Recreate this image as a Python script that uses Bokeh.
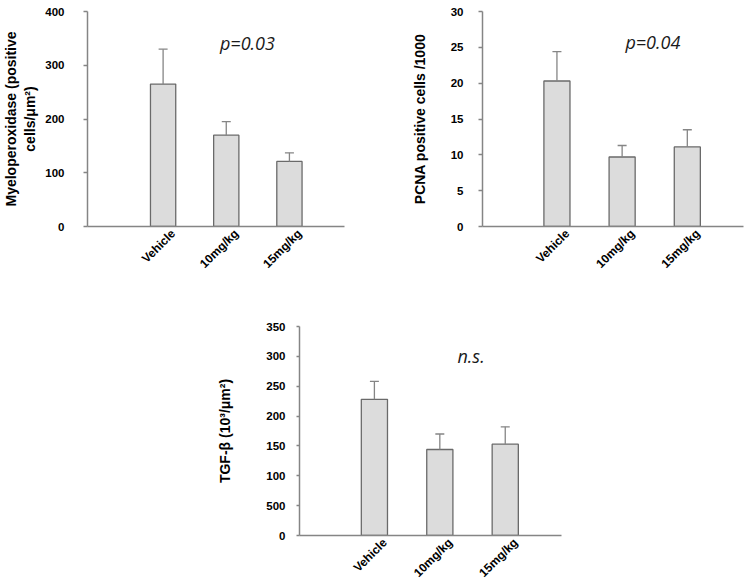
import math
from bokeh.plotting import figure
from bokeh.models import Range1d, FixedTicker, Whisker, TeeHead, Label, ColumnDataSource
from bokeh.layouts import column, row
from bokeh.embed import file_html
from bokeh.resources import INLINE

# ---------------- data ----------------
categories = ["Vehicle", "10mg/kg", "15mg/kg"]

mpo_mean = [265, 170, 121]
mpo_err = [65, 25, 16]
mpo_ticks = [0, 100, 200, 300, 400]
mpo_tick_labels = ["0", "100", "200", "300", "400"]

pcna_mean = [20.3, 9.7, 11.1]
pcna_err = [4.1, 1.6, 2.4]
pcna_ticks = [0, 5, 10, 15, 20, 25, 30]
pcna_tick_labels = ["0", "5", "10", "15", "20", "25", "30"]

tgf_mean = [228, 144, 153]
tgf_err = [30, 26, 29]
tgf_ticks = [0, 50, 100, 150, 200, 250, 300, 350]
tgf_tick_labels = ["0", "500", "100", "150", "200", "250", "300", "350"]

p_texts = ["p=0.03", "p=0.04", "n.s."]

AXIS_COLOR = "#858585"
BAR_FILL = "#dcdcdc"
BAR_LINE = "#6a6a6a"
FONT = "Liberation Sans"
LABEL_SHIFT = 0.16  # rotated category labels end right of the bar centre


def make_panel(means, errs, ticks, tick_labels, ylabel, xr, ymax, w, h,
               bl, br, bt, bb, tick_standoff, title_standoff, tick_out,
               ptext, px, py):
    xs = list(range(1, len(categories) + 1))
    p = figure(width=w, height=h, output_backend="svg", toolbar_location=None,
               x_range=Range1d(*xr), y_range=Range1d(0, ymax),
               min_border_left=bl, min_border_right=br,
               min_border_top=bt, min_border_bottom=bb)
    p.outline_line_color = None
    p.xgrid.visible = False
    p.ygrid.visible = False
    p.background_fill_color = "white"
    p.border_fill_color = "white"

    p.vbar(x=xs, top=means, width=0.4, bottom=0, fill_color=BAR_FILL,
           line_color=BAR_LINE, line_width=1.3)

    src = ColumnDataSource(dict(x=xs, lower=means,
                                upper=[m + e for m, e in zip(means, errs)]))
    wh = Whisker(base="x", lower="lower", upper="upper", source=src,
                 lower_head=None,
                 upper_head=TeeHead(size=9, line_color=AXIS_COLOR, line_width=1.3),
                 line_color=AXIS_COLOR, line_width=1.3, level="overlay")
    p.add_layout(wh)

    # y axis
    ya = p.yaxis[0]
    ya.ticker = FixedTicker(ticks=ticks)
    ya.major_label_overrides = {t: l for t, l in zip(ticks, tick_labels)}
    ya.axis_line_color = AXIS_COLOR
    ya.axis_line_width = 1.5
    ya.major_tick_line_color = AXIS_COLOR
    ya.major_tick_line_width = 1.3
    ya.major_tick_out = tick_out
    ya.major_tick_in = 0
    ya.minor_tick_line_color = None
    ya.major_label_text_font = FONT
    ya.major_label_text_font_style = "bold"
    ya.major_label_text_font_size = "11.5px"
    ya.major_label_text_color = "black"
    ya.major_label_standoff = tick_standoff
    ya.axis_label = ylabel
    ya.axis_label_text_font = FONT
    ya.axis_label_text_font_style = "bold"
    ya.axis_label_text_font_size = "14px"
    ya.axis_label_text_color = "black"
    ya.axis_label_standoff = title_standoff

    # x axis (labels placed at shifted tick positions)
    xt = [x + LABEL_SHIFT for x in xs]
    xa = p.xaxis[0]
    xa.ticker = FixedTicker(ticks=xt)
    xa.major_label_overrides = {t: c for t, c in zip(xt, categories)}
    xa.major_label_orientation = math.pi / 4
    xa.axis_line_color = AXIS_COLOR
    xa.axis_line_width = 1.5
    xa.major_tick_line_color = None
    xa.major_tick_out = 0
    xa.major_tick_in = 0
    xa.minor_tick_line_color = None
    xa.major_label_text_font = FONT
    xa.major_label_text_font_style = "bold"
    xa.major_label_text_font_size = "12px"
    xa.major_label_text_color = "black"
    xa.major_label_standoff = 5

    p.add_layout(Label(x=px, y=py, text=ptext, text_font="Open Sans",
                       text_font_style="italic", text_font_size="18px",
                       text_color="#1a1a1a", text_align="left",
                       text_baseline="middle"))
    return p


p1 = make_panel(mpo_mean, mpo_err, mpo_ticks, mpo_tick_labels,
                "Myeloperoxidase (positive\ncells/\u03bcm\u00b2)",
                (-0.197, 3.872), 400, 400, 300, 84, 56, 11, 74, 19, 4, 4,
                p_texts[0], 1.9, 342)
p2 = make_panel(pcna_mean, pcna_err, pcna_ticks, pcna_tick_labels,
                "PCNA positive cells /1000",
                (-0.142, 3.862), 30, 351, 300, 82, 8, 11, 74, 15, 20, 4,
                p_texts[1], 2.05, 25.7)
p3 = make_panel(tgf_mean, tgf_err, tgf_ticks, tgf_tick_labels,
                "TGF-\u03b2 (10\u00b3/\u03bcm\u00b2)",
                (-0.145, 3.86), 350, 581, 288, 299, 20, 26, 53, 11, 30, 3,
                p_texts[2], 2.27, 300)

layout = column(row(p1, p2), p3)

open("out.html", "w").write(file_html(layout, INLINE))
